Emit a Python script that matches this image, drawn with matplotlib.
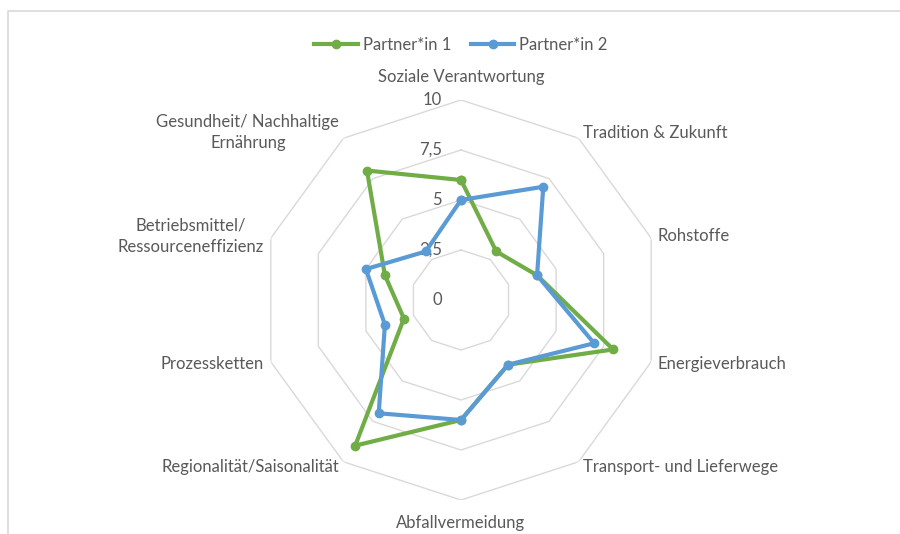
import numpy as np
import matplotlib
matplotlib.use("Agg")
import matplotlib.pyplot as plt
from matplotlib.patches import Rectangle
import matplotlib.transforms as mtransforms

plt.rcParams['font.family'] = ['Lato', 'DejaVu Sans']

# Kategorien im Uhrzeigersinn, beginnend oben
kategorien = [
    "Soziale Verantwortung",
    "Tradition & Zukunft",
    "Rohstoffe",
    "Energieverbrauch",
    "Transport- und Lieferwege",
    "Abfallvermeidung",
    "Regionalität/Saisonalität",
    "Prozessketten",
    "Betriebsmittel/\nRessourceneffizienz",
    "Gesundheit/ Nachhaltige\nErnährung",
]
partner1 = [6, 3, 4, 8, 4, 6, 9, 3, 4, 8]
partner2 = [5, 7, 4, 7, 4, 6, 7, 4, 5, 3]
skala = [0, 2.5, 5, 7.5, 10]
skala_labels = ["0", "2,5", "5", "7,5", "10"]

GRUEN = "#70AD47"
BLAU = "#5B9BD5"
TEXT = "#595959"
GITTER = "#D9D9D9"
FS = 12

W, H = 900, 534
fig = plt.figure(figsize=(W / 100, H / 100), dpi=100)

# Rahmen des Diagrammbereichs
fig.patches.append(Rectangle((8 / W, -0.1), 1.2, (H - 11) / H + 0.1,
                             transform=fig.transFigure, fill=False,
                             edgecolor=GITTER, lw=1.2))

cx, cy, rad = 461, 300, 200
ax = fig.add_axes([(cx - rad) / W, (H - cy - rad) / H, 2 * rad / W, 2 * rad / H],
                  polar=True)
ax.set_theta_zero_location("N")
ax.set_theta_direction(-1)
ax.set_ylim(0, 10)
ax.set_xticks([])
ax.set_yticks([])
ax.grid(False)
ax.spines["polar"].set_visible(False)
ax.patch.set_visible(False)

n = len(kategorien)
winkel = np.arange(n) * 2 * np.pi / n
ring = np.append(winkel, winkel[0])

# Zehneck-Gitter
for r in skala[1:]:
    ax.plot(ring, [r] * (n + 1), color=GITTER, lw=1, zorder=1)

# Skalenbeschriftung
off = mtransforms.offset_copy(ax.transData, fig=fig, x=-19, y=0, units="dots")
for r, lab in zip(skala, skala_labels):
    ax.text(0, r, lab, transform=off, ha="right", va="center",
            fontsize=FS, color=TEXT, zorder=2)

# Datenreihen
for werte, farbe, name in [(partner1, GRUEN, "Partner*in 1"),
                           (partner2, BLAU, "Partner*in 2")]:
    ax.plot(ring, werte + werte[:1], color=farbe, lw=3, marker="o",
            markersize=6, label=name, zorder=3)

# Kategoriebeschriftungen
for t, name in zip(winkel, kategorien):
    deg = np.degrees(t)
    if deg < 1 or abs(deg - 180) < 1:
        ha = "center"
    elif deg < 180:
        ha = "left"
    else:
        ha = "right"
    r = 11.15 if ha == "center" else 10.35
    ax.text(t, r, name, ha=ha, va="center", multialignment="center",
            fontsize=FS, color=TEXT, linespacing=1.4)

fig.legend(loc="upper center", bbox_to_anchor=(461 / W, 1 - 22 / H), ncol=2,
           frameon=False, fontsize=FS, labelcolor=TEXT, handlelength=2.6,
           columnspacing=1.2, handletextpad=0.3)

fig.savefig("out.png", dpi=100, facecolor="white")
